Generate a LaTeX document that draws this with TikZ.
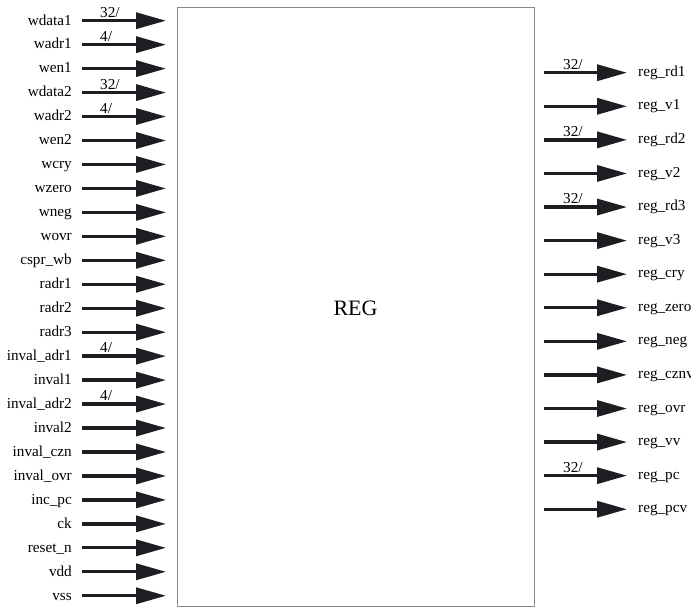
\documentclass[tikz,border=0pt]{standalone}
\usepackage{fontspec}
\setmainfont{Liberation Serif}
\usetikzlibrary{arrows.meta}
\definecolor{arrowc}{HTML}{1E1E22}
\definecolor{boxc}{HTML}{8A8A8A}
\begin{document}
\begin{tikzpicture}[x=1pt,y=-1pt,
  sig/.style={line width=3.3pt, draw=arrowc, -{Triangle[length=30pt,width=16pt]}},
  lab/.style={inner sep=0pt, font=\fontsize{15.2}{17}\selectfont, text=black},
  inlab/.style={lab, anchor=base east},
  outlab/.style={lab, anchor=base west},
  buslab/.style={lab, anchor=base west},
  blockbox/.style={draw=boxc, line width=1.1pt, inner sep=0pt, minimum width=357pt, minimum height=599pt, anchor=north west}]
\useasboundingbox (0,0) rectangle (691,613);
\clip (0,0) rectangle (691,613);
\node[blockbox] (box) at (177,7) {};
\node[lab, font=\fontsize{22}{26}\selectfont] (title) at (355.5,308) {REG};
% inputs
\foreach \nm [count=\i from 0] in {wdata1,wadr1,wen1,wdata2,wadr2,wen2,wcry,wzero,wneg,wovr,cspr\_wb,radr1,radr2,radr3,inval\_adr1,inval1,inval\_adr2,inval2,inval\_czn,inval\_ovr,inc\_pc,ck,reset\_n,vdd,vss}{
  \pgfmathsetmacro{\yy}{20.7+23.96*\i}
  \node[inlab] (in\i) at (72,\yy+4.3) {\nm};
  \coordinate (is\i) at (82,\yy);
  \draw[sig, shorten >=11pt] (is\i) -- (is\i -| box.west);
}
\foreach \i/\w in {0/32,1/4,3/32,4/4,14/4,16/4}{
  \pgfmathsetmacro{\yy}{20.7+23.96*\i}
  \node[buslab] (ib\i) at (100,\yy-3.4) {\w/};
}
% outputs
\foreach \nm [count=\i from 0] in {reg\_rd1,reg\_v1,reg\_rd2,reg\_v2,reg\_rd3,reg\_v3,reg\_cry,reg\_zero,reg\_neg,reg\_cznv,reg\_ovr,reg\_vv,reg\_pc,reg\_pcv}{
  \pgfmathsetmacro{\yy}{72.7+33.58*\i}
  \node[outlab] (out\i) at (638,\yy+3.6) {\nm};
  \coordinate (oe\i) at (627,\yy);
  \draw[sig, shorten <=9pt] (box.east |- oe\i) -- (oe\i);
}
\foreach \i in {0,2,4,12}{
  \pgfmathsetmacro{\yy}{72.7+33.58*\i}
  \node[buslab] (ob\i) at (563,\yy-3.4) {32/};
}
\end{tikzpicture}
\end{document}
